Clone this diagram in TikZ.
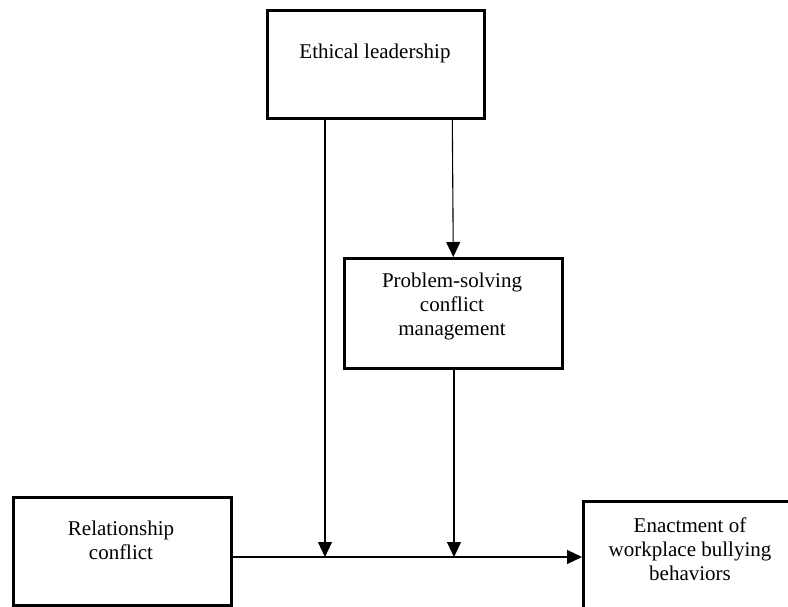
\documentclass[tikz,border=0pt]{standalone}
\usepackage{fontspec}
\setmainfont{Liberation Serif}
\usetikzlibrary{arrows.meta}
\begin{document}
\begin{tikzpicture}[x=1pt,y=-1pt,
  varbox/.style={draw=black, line width=2.6pt, rectangle, inner sep=0pt, anchor=north west},
  lbl/.style={align=center, font=\fontsize{21}{24}\selectfont, inner sep=0pt},
  link/.style={line width=1.1pt, -{Triangle[length=15pt,width=14pt]}}]
  \useasboundingbox (0,0) rectangle (788,606);
  % variable boxes
  \node[varbox, minimum width=217pt, minimum height=108pt] (eth) at (266,9) {};
  \node[varbox, minimum width=218pt, minimum height=110pt] (psc) at (343,257) {};
  \node[varbox, minimum width=218pt, minimum height=108pt] (rel) at (12,496) {};
  \node[varbox, minimum width=220pt, minimum height=130pt] (enb) at (582,500) {};
  % box captions
  \node[lbl] (ethtxt) at (375,53) {Ethical leadership};
  \node[lbl] (psctxt) at (452,306) {Problem-solving\\conflict\\management};
  \node[lbl] (reltxt) at (121,540) {Relationship\\conflict};
  \node[lbl] (enbtxt) at (690,549) {Enactment of\\workplace bullying\\behaviors};
  % points on the main path where the moderating arrows land
  \coordinate (m1) at (325,557);
  \coordinate (m2) at (454,557);
  % main effect
  \draw[link] (rel.east |- m1) -- (enb.west |- m1);
  % ethical leadership paths
  \draw[link] (eth.south -| m1) -- (m1);
  \draw[link] (eth.south -| psc.north) ++(-1,0) -- (psc.north);
  % conflict management moderating path
  \draw[link] (psc.south -| m2) -- (m2);
\end{tikzpicture}
\end{document}
